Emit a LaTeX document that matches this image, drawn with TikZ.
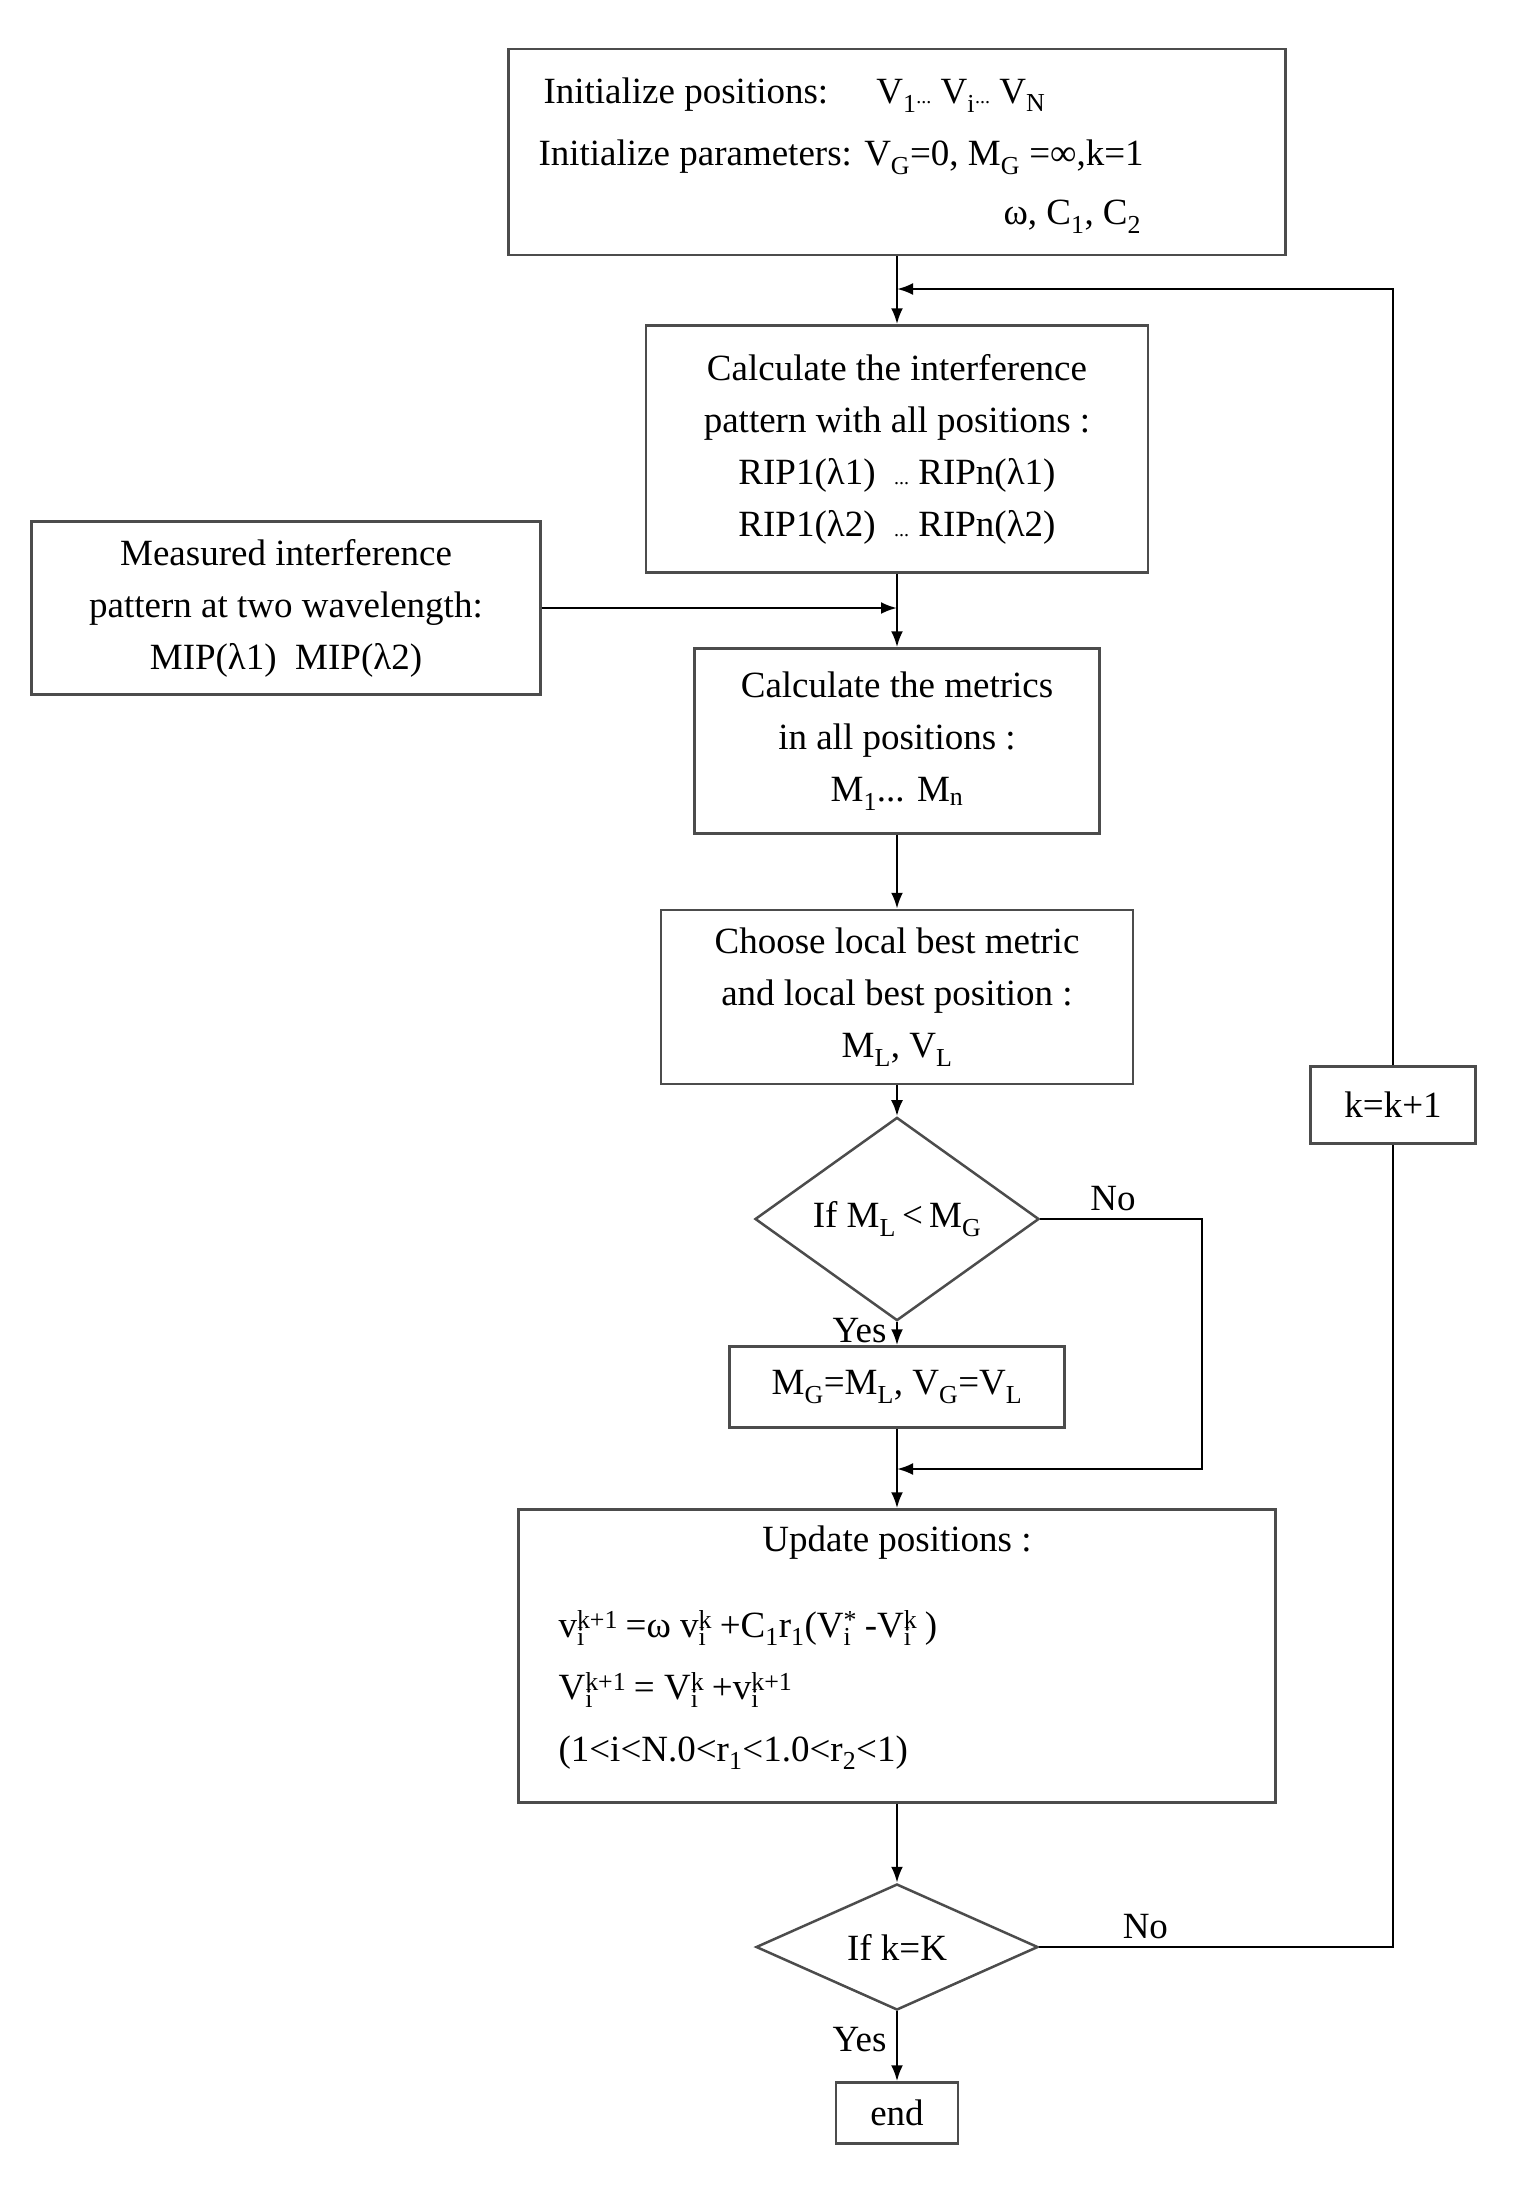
\documentclass[tikz,border=0pt]{standalone}
\usepackage{fontspec}
\setmainfont{Liberation Serif}
\usetikzlibrary{shapes.geometric,arrows.meta}
\newcommand\ssb[2]{\makebox[0pt][l]{\textsuperscript{#1}}\textsubscript{#2}\hphantom{\textsuperscript{#1}}}
\newcommand\sdots{{\fontsize{20}{20}\selectfont ...}}
\begin{document}
\begin{tikzpicture}[x=1pt,y=-1pt,
  every node/.style={font=\fontsize{37}{52}\selectfont},
  box/.style={draw=black!70,line width=2.5pt,inner sep=0pt,align=center},
  arr/.style={line width=2.5pt,-{Latex[length=16pt,width=12pt]}},
  ln/.style={line width=2.5pt}]
\useasboundingbox (0,0) rectangle (1535,2201);
\node[box,minimum width=777pt,minimum height=206pt] (b1) at (897,152) {};
\node[anchor=west] at (540,95) {Initialize positions:\hspace{1.3em}V\textsubscript{1}\sdots\ V\textsubscript{i}\sdots\ V\textsubscript{N}};
\node[anchor=west] at (535,157) {Initialize parameters: V\textsubscript{G}=0, M\textsubscript{G} =∞,k=1};
\node[anchor=west] at (1000,217) {ω, C\textsubscript{1}, C\textsubscript{2}};
\node[box,minimum width=502pt,minimum height=247pt] (b2) at (897,449) {Calculate the interference\\pattern with all positions :\\RIP1(λ1) \ \sdots\ RIPn(λ1)\\RIP1(λ2) \ \sdots\ RIPn(λ2)};
\node[box,minimum width=509pt,minimum height=173pt] (bm) at (286,608) {Measured interference\\pattern at two wavelength:\\MIP(λ1)\ \ MIP(λ2)};
\node[box,minimum width=405pt,minimum height=185pt] (b3) at (897,741) {Calculate the metrics\\in all positions :\\M\textsubscript{1}... M\textsubscript{n}};
\node[box,minimum width=472pt,minimum height=174pt] (b4) at (897,997) {Choose local best metric\\and local best position :\\M\textsubscript{L}, V\textsubscript{L}};
\node[diamond,draw=black!70,line width=2.5pt,minimum width=284pt,minimum height=123pt,inner sep=0pt] (d1) at (897,1219) {If M\textsubscript{L}\,<\,M\textsubscript{G}};
\node[box,minimum width=335pt,minimum height=81pt] (b5) at (897,1387) {M\textsubscript{G}=M\textsubscript{L}, V\textsubscript{G}=V\textsubscript{L}};
\node[box,minimum width=757pt,minimum height=293pt] (b6) at (897,1656) {};
\node at (897,1543) {Update positions :};
\node[anchor=west,align=left,font=\fontsize{37}{62}\selectfont] at (555,1690) {v\ssb{k+1}{i}=ω v\ssb{k}{i}+C\textsubscript{1}r\textsubscript{1}(V\ssb{*}{i}-V\ssb{k}{i})\\V\ssb{k+1}{i}= V\ssb{k}{i}+v\ssb{k+1}{i}\\(1<i<N.0<r\textsubscript{1}<1.0<r\textsubscript{2}<1)};
\node[diamond,draw=black!70,line width=2.5pt,minimum width=282pt,minimum height=123pt,inner sep=0pt] (d2) at (897,1947) {If k=K};
\node[box,minimum width=122pt,minimum height=61pt] (e) at (897,2113) {end};
\node[box,minimum width=165pt,minimum height=77pt] (kk) at (1393,1105) {k=k+1};
\coordinate (j1) at (897,289);
\coordinate (j2) at (897,608);
\coordinate (j3) at (897,1469);
\draw[ln] (b1.south) -- (j1);
\draw[arr] (b2.south) -- (b3.north);
\draw[arr] (bm.east) -- (j2);
\draw[arr] (b3.south) -- (b4.north);
\draw[arr] (b4.south) -- (d1.north);
\draw[arr] (d1.south) -- (b5.north) node[pos=0.35,left=6pt] {Yes};
\draw[ln] (b5.south) -- (j3);
\draw[arr] (d1.east) -- (1202,1219) node[pos=0.45,above=4pt] {No} -- (1202,1469) -- (j3);
\draw[arr] (j3) -- (b6.north);
\draw[arr] (b6.south) -- (d2.north);
\draw[arr] (d2.south) -- (e.north) node[pos=0.4,left=6pt] {Yes};
\draw[ln] (d2.east) -- (1393,1947) node[pos=0.3,above=4pt] {No} -- (kk.south);
\draw[arr] (kk.north) -- (1393,289) -- (j1);
\draw[arr] (j1) -- (b2.north);
\end{tikzpicture}
\end{document}
